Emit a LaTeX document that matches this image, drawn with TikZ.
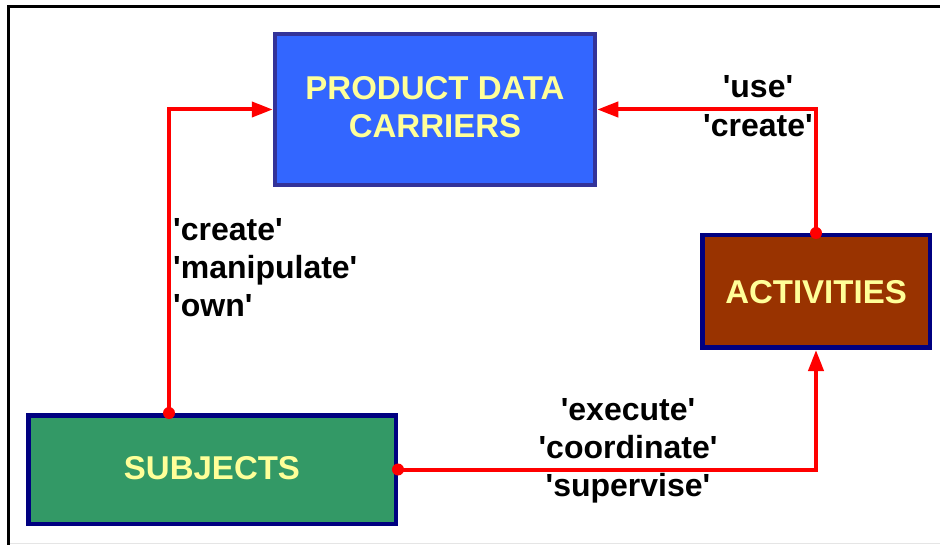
\documentclass[tikz,border=0pt]{standalone}
\usepackage{fontspec}
\setmainfont{Liberation Sans}
\usetikzlibrary{arrows.meta}
\definecolor{pdcfill}{HTML}{3366FF}
\definecolor{pdcdraw}{HTML}{333399}
\definecolor{actfill}{HTML}{993300}
\definecolor{subjfill}{HTML}{339966}
\definecolor{navyb}{HTML}{000080}
\definecolor{txtyel}{HTML}{FFFF99}
\definecolor{conred}{HTML}{FF0000}
\newcommand{\sq}[1]{\textquotesingle#1\textquotesingle}
\tikzset{
  box/.style={draw=navyb, line width=4.5pt, inner sep=0pt, align=center,
    text=txtyel, font=\fontsize{33}{38}\selectfont\bfseries},
  conn/.style={draw=conred, line width=4pt, -{Triangle[length=21pt,width=15pt]}},
  cdot/.style={fill=conred},
  lbl/.style={inner sep=0pt, text=black, font=\fontsize{32}{38}\selectfont\bfseries}
}
\begin{document}
\begin{tikzpicture}[x=1pt,y=-1pt]
\useasboundingbox (0,0) rectangle (940,545);
\fill[white] (0,0) rectangle (940,545);
% frame
\draw[black!10, line width=1pt] (8,543.5) -- (940,543.5);
\draw[black, line width=3pt] (8,545) -- (8,6.5) -- (940,6.5);
% boxes
\node[box, fill=pdcfill, draw=pdcdraw, minimum width=320, minimum height=151, text depth=5pt] (pdc) at (435,109.5) {PRODUCT DATA\\CARRIERS};
\node[box, fill=actfill, minimum width=227.5, minimum height=112.5, text depth=0pt] (act) at (816,291.5) {ACTIVITIES};
\node[box, fill=subjfill, minimum width=367.5, minimum height=108.5, text depth=2.5pt] (subj) at (212,469.5) {SUBJECTS};
% connection points
\coordinate (sTop) at (subj.north -| 169,0);
% connectors
\draw[conn] (sTop) |- (pdc.west);
\draw[conn] (act.north) |- (pdc.east);
\draw[conn] (subj.east) -| (act.south);
\fill[cdot] (sTop) circle (6);
\fill[cdot] (act.north) circle (6);
\fill[cdot] (subj.east) circle (6);
% labels
\node[lbl, anchor=north west, align=left] (l1) at (173,218) {\sq{create}\\\sq{manipulate}\\\sq{own}};
\node[lbl, anchor=north, align=center, font=\fontsize{32}{39}\selectfont\bfseries] (l2) at (758,75) {\sq{use}\\\sq{create}};
\node[lbl, anchor=north, align=center] (l3) at (628,398) {\sq{execute}\\\sq{coordinate}\\\sq{supervise}};
\end{tikzpicture}
\end{document}
